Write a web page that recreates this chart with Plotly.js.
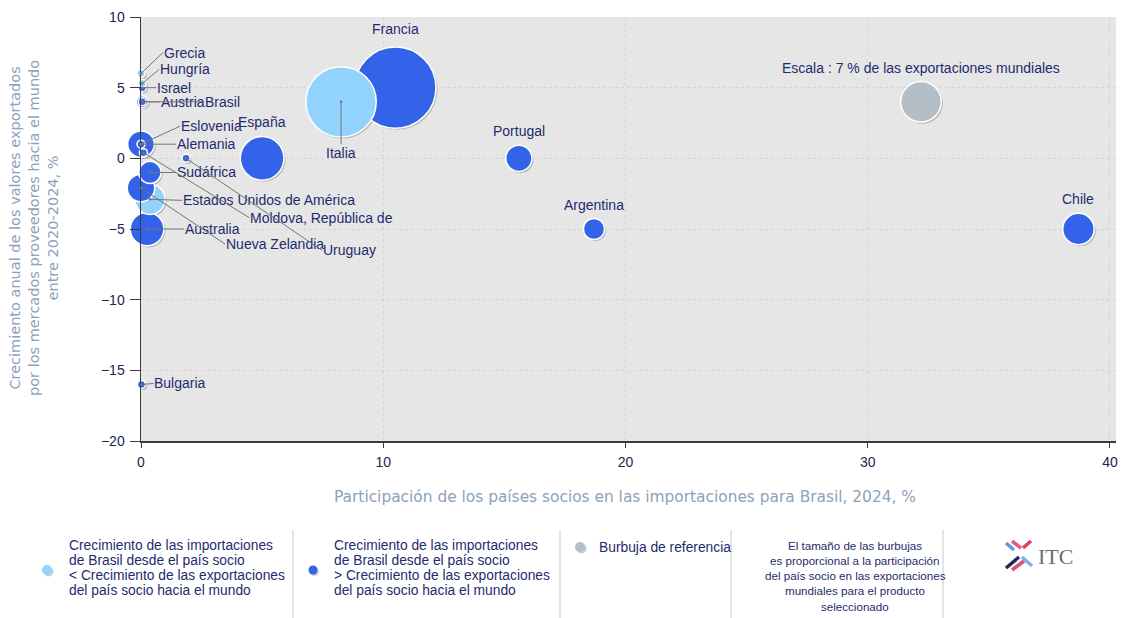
<!DOCTYPE html>
<html><head><meta charset="utf-8">
<script src="https://cdn.plot.ly/plotly-3.0.1.min.js"></script>
<style>html,body{margin:0;padding:0;background:#fff}#chart{width:1127px;height:618px}</style>
</head><body><div id="chart"></div>
<script>
// ---- data ----
const countries = ['Francia','Italia','España','Australia','Chile','Estados Unidos de América','Nueva Zelandia','Alemania','Portugal','Sudáfrica','Argentina','Austria','Israel','Grecia','Eslovenia','Brasil','Hungría','Moldova, República de','Uruguay','Bulgaria'];
const importShare = [10.5, 8.26, 5.0, 0.25, 38.7, 0.37, 0.0, 0.0, 15.6, 0.37, 18.7, 0.05, 0.05, 0.0, 0.0, 0.05, 0.05, 0.1, 1.86, 0.02];
const exportGrowth = [5.0, 4.0, 0.0, -5.0, -5.0, -2.9, -2.1, 1.0, 0.0, -1.0, -5.0, 4.0, 5.0, 6.0, 1.0, 4.0, 5.3, 0.4, 0.0, -16.0];
const worldShare = [28.0, 21.0, 8.1, 4.8, 4.2, 3.9, 3.2, 3.0, 2.9, 2.1, 1.9, 0.6, 0.25, 0.2, 0.15, 0.12, 0.05, 0.02, 0.03, 0.03];
const growthGroup = ['gt','lt','gt','gt','gt','lt','gt','gt','gt','gt','gt','gt','gt','lt','gt','gt','lt','gt','gt','gt'];
const refLabel = ['Escala : 7 % de las exportaciones mundiales'];
const refX = [32.2];
const refY = [4];
const refShare = [7];
const xTickVals = [0, 10, 20, 30, 40];
const yTickVals = [-20, -15, -10, -5, 0, 5, 10];
const xTitle = 'Participación de los países socios en las importaciones para Brasil, 2024, %';
const yTitle = 'Crecimiento anual de los valores exportados<br>por los mercados proveedores hacia el mundo<br>entre 2020-2024, %';
const legendLt = ['Crecimiento de las importaciones','de Brasil desde el país socio','< Crecimiento de las exportaciones','del país socio hacia el mundo'];
const legendGt = ['Crecimiento de las importaciones','de Brasil desde el país socio','> Crecimiento de las exportaciones','del país socio hacia el mundo'];
const legendRef = 'Burbuja de referencia';
const legendSize = ['El tamaño de las burbujas','es proporcional a la participación','del país socio en las exportaciones','mundiales para el producto','seleccionado'];

// ---- styles / layout helpers ----
const W = 1127, H = 618, ML = 141, MR = 11, MT = 17, MB = 177;
const PW = W - ML - MR, PH = H - MT - MB;
const xRange = [0, 40.25], yRange = [-20, 10];
const pxX = px => (px - ML) / PW;
const pxY = py => (H - MB - py) / PH;
const colors = {lt: '#92d3fd', gt: '#3263e9', ref: '#b3bec6'};
const labelColor = '#1f2b6e';
const labelFont = {family: 'Liberation Sans, Arial, sans-serif', size: 14, color: labelColor};
const legendFont = {family: 'Liberation Sans, Arial, sans-serif', size: 13.8, color: labelColor};
const smallFont = {family: 'Liberation Sans, Arial, sans-serif', size: 11.6, color: labelColor};
const refDiameter = 40.6;
const sizeref = 2 * refShare[0] / (refDiameter * refDiameter);
const shiftPx = 1.6;
const dx = shiftPx * (xRange[1] - xRange[0]) / PW, dy = shiftPx * (yRange[1] - yRange[0]) / PH;

const labelPos = {
  'Grecia': {ax: 22, ay: -21},
  'Hungría': {ax: 17, ay: -14},
  'Israel': {ax: 14, ay: 0},
  'Austria': {ax: 18, ay: 0},
  'Brasil': {ax: 62, ay: 0},
  'Eslovenia': {ax: 39, ay: -18},
  'Alemania': {ax: 35, ay: 0},
  'Moldova, República de': {ax: 106, ay: 65},
  'Uruguay': {ax: 136, ay: 92},
  'Sudáfrica': {ax: 26, ay: 0},
  'Estados Unidos de América': {ax: 32, ay: 1},
  'Nueva Zelandia': {ax: 84, ay: 56},
  'Australia': {ax: 37, ay: 0},
  'Bulgaria': {ax: 12, ay: -1},
  'España': {above: 36},
  'Francia': {above: 59},
  'Italia': {ax: 0, ay: 51, center: true},
  'Portugal': {above: 27},
  'Argentina': {above: 24},
  'Chile': {above: 30}
};

const markerBase = {sizemode: 'area', sizeref: sizeref, sizemin: 4, opacity: 1};
const traces = [
  // soft shadows (same data, drawn on slightly offset overlay axes)
  {type: 'scatter', mode: 'markers', x: importShare, y: exportGrowth, xaxis: 'x2', yaxis: 'y2', cliponaxis: false, hoverinfo: 'skip',
   marker: Object.assign({}, markerBase, {size: worldShare, color: 'rgba(0,0,0,0.2)', line: {width: 0}})},
  {type: 'scatter', mode: 'markers', x: refX, y: refY, xaxis: 'x2', yaxis: 'y2', cliponaxis: false, hoverinfo: 'skip',
   marker: Object.assign({}, markerBase, {size: refShare, color: 'rgba(0,0,0,0.2)', line: {width: 0}})},
  // bubbles
  {type: 'scatter', mode: 'markers', x: importShare, y: exportGrowth, text: countries, xaxis: 'x3', yaxis: 'y3', cliponaxis: false,
   marker: Object.assign({}, markerBase, {size: worldShare, color: growthGroup.map(g => colors[g]), line: {color: '#ffffff', width: 1.5}})},
  {type: 'scatter', mode: 'markers', x: refX, y: refY, text: refLabel, xaxis: 'x3', yaxis: 'y3', cliponaxis: false,
   marker: Object.assign({}, markerBase, {size: refShare, color: colors.ref, line: {color: '#ffffff', width: 1.5}})}
];

const annotations = [];
countries.forEach((c, i) => {
  const s = labelPos[c]; if (!s) return;
  const a = {x: importShare[i], y: exportGrowth[i], xref: 'x', yref: 'y', text: c, font: labelFont};
  if (s.above !== undefined) {
    Object.assign(a, {showarrow: false, yshift: s.above, xanchor: 'center', yanchor: 'middle'});
  } else {
    Object.assign(a, {showarrow: true, ax: s.ax, ay: s.ay, axref: 'pixel', ayref: 'pixel',
      xanchor: s.center ? 'center' : 'left', yanchor: 'middle', arrowhead: 6, arrowsize: 0.6,
      arrowwidth: 1, arrowcolor: '#757575', standoff: 0, borderpad: 0});
  }
  annotations.push(a);
});
annotations.push({x: refX[0], y: refY[0], xref: 'x', yref: 'y', text: refLabel[0], showarrow: false, yshift: 34, font: labelFont});

// axis titles
const titleFont = {family: 'DejaVu Sans, Open Sans, sans-serif', size: 14.5, color: '#8ba2bb'};
annotations.push({xref: 'paper', yref: 'paper', x: pxX(625), y: pxY(497), text: xTitle, showarrow: false, font: Object.assign({}, titleFont, {size: 15.4}), xanchor: 'center', yanchor: 'middle'});
annotations.push({xref: 'paper', yref: 'paper', x: pxX(34), y: pxY(228), text: yTitle, showarrow: false, font: titleFont, textangle: -90, xanchor: 'center', yanchor: 'middle'});

// legend texts
const lineY0 = 545, lineStep = 15.3;
legendLt.forEach((t, k) => annotations.push({xref: 'paper', yref: 'paper', x: pxX(67), y: pxY(lineY0 + k * lineStep), text: t, showarrow: false, xanchor: 'left', yanchor: 'middle', font: legendFont}));
legendGt.forEach((t, k) => annotations.push({xref: 'paper', yref: 'paper', x: pxX(332), y: pxY(lineY0 + k * lineStep), text: t, showarrow: false, xanchor: 'left', yanchor: 'middle', font: legendFont}));
annotations.push({xref: 'paper', yref: 'paper', x: pxX(597), y: pxY(547), text: legendRef, showarrow: false, xanchor: 'left', yanchor: 'middle', font: legendFont});
legendSize.forEach((t, k) => annotations.push({xref: 'paper', yref: 'paper', x: pxX(855), y: pxY(lineY0 + k * lineStep), text: t, showarrow: false, xanchor: 'center', yanchor: 'middle', font: smallFont}));
annotations.push({xref: 'paper', yref: 'paper', x: pxX(1036), y: pxY(556), text: 'ITC', showarrow: false, xanchor: 'left', yanchor: 'middle', font: {family: 'Liberation Serif, DejaVu Serif, serif', size: 22, color: '#6e6e6e'}});

// legend shapes
const shapes = [];
[293, 560, 731, 943].forEach(px => shapes.push({type: 'line', xref: 'paper', yref: 'paper', x0: pxX(px), x1: pxX(px), y0: pxY(530), y1: pxY(618), line: {color: '#c9c9c9', width: 1}}));
function dot(cx, cy, r, color) {
  shapes.push({type: 'circle', xref: 'paper', yref: 'paper', x0: pxX(cx - r + 1.5), x1: pxX(cx + r + 1.5), y0: pxY(cy + r + 1.5), y1: pxY(cy - r + 1.5), fillcolor: 'rgba(0,0,0,0.2)', line: {width: 0}});
  shapes.push({type: 'circle', xref: 'paper', yref: 'paper', x0: pxX(cx - r), x1: pxX(cx + r), y0: pxY(cy + r), y1: pxY(cy - r), fillcolor: color, line: {width: 0}});
}
dot(47, 570, 5, colors.lt);
dot(313, 570, 4.5, colors.gt);
dot(580, 547, 5, colors.ref);
// ITC logo mark
function bar(x0, y0, x1, y1, color) {
  shapes.push({type: 'line', xref: 'paper', yref: 'paper', x0: pxX(x0), y0: pxY(y0), x1: pxX(x1), y1: pxY(y1), line: {color: color, width: 3.5}});
}
bar(1006, 543, 1014, 550, '#5b9be3');
bar(1012, 541, 1021, 548, '#e35d7c');
bar(1023, 548, 1031, 541, '#d9415f');
bar(1006, 568, 1019, 557, '#1d2b5c');
bar(1012, 570, 1024, 561, '#e04f6f');
bar(1022, 557, 1032, 566, '#7db3e8');

const axisCommon = {showline: true, linecolor: '#3b3b3b', linewidth: 1.5, ticks: 'outside', tickcolor: '#3b3b3b',
  tickfont: {family: 'Liberation Sans, Arial, sans-serif', size: 14, color: '#1b2552'}, zeroline: false,
  showgrid: true, gridcolor: '#d4d4d4', griddash: 'dot', gridwidth: 1, layer: 'above traces', fixedrange: true};
const hidden = {visible: false, showgrid: false, zeroline: false, fixedrange: true};

const layout = {
  width: W, height: H, margin: {l: ML, r: MR, t: MT, b: MB}, paper_bgcolor: '#ffffff', plot_bgcolor: '#e6e6e6',
  showlegend: false, hovermode: 'closest',
  xaxis: Object.assign({}, axisCommon, {range: xRange, tickvals: xTickVals, ticklen: 5, ticklabelstandoff: 3}),
  yaxis: Object.assign({}, axisCommon, {range: yRange, tickvals: yTickVals, ticklen: 10, ticklabelstandoff: 2}),
  xaxis2: Object.assign({}, hidden, {overlaying: 'x', range: [xRange[0] - dx, xRange[1] - dx]}),
  yaxis2: Object.assign({}, hidden, {overlaying: 'y', range: [yRange[0] + dy, yRange[1] + dy]}),
  xaxis3: Object.assign({}, hidden, {overlaying: 'x', range: xRange}),
  yaxis3: Object.assign({}, hidden, {overlaying: 'y', range: yRange}),
  annotations: annotations, shapes: shapes
};
Plotly.newPlot('chart', traces, layout, {displayModeBar: false, staticPlot: true});
</script></body></html>
